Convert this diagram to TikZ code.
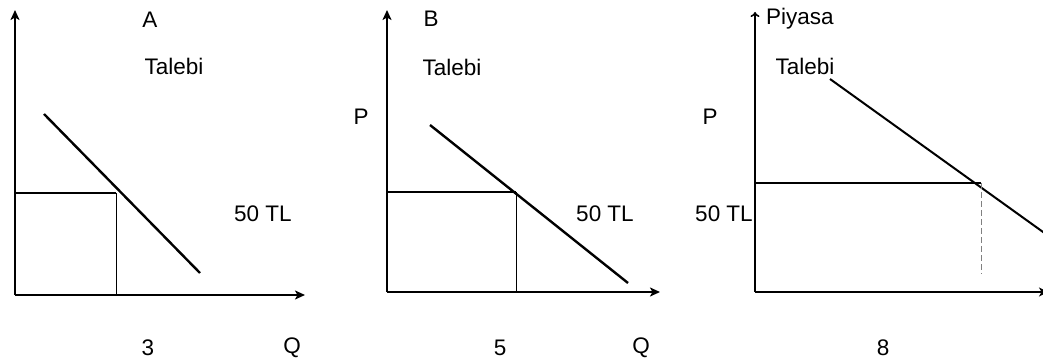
\documentclass[tikz,border=0pt]{standalone}
\usepackage{fontspec}
\setmainfont{Liberation Sans}
\usetikzlibrary{arrows.meta}
\begin{document}
\begin{tikzpicture}[x=1pt,y=-1pt,
  lbl/.style={inner sep=0pt,font=\fontsize{22.5}{22.5}\selectfont},
  axis/.style={line width=2pt,-{Stealth[length=10pt,width=9pt,inset=2.5pt]}},
  axisc/.style={line width=1.6pt,-{Stealth[length=9pt,width=9pt,inset=2.5pt]}},
  demand/.style={line width=2.4pt},
  price/.style={line width=1.6pt},
  thin/.style={line width=0.9pt},
  dot/.style={line width=0.8pt,dash pattern=on 6pt off 3pt,gray}]
\useasboundingbox (0,0) rectangle (1043,363);
% Panel A
\coordinate (oA) at (15,295);
\coordinate (yA) at (15,10);
\coordinate (xA) at (305,295);
\coordinate (dA1) at (44,114);
\coordinate (dA2) at (200,273);
\coordinate (pA0) at (15,193);
\coordinate (pA1) at (116,193);
\coordinate (qA) at (116,295);
\draw[axis] (oA) -- (yA);
\draw[axis] (oA) -- (xA);
\draw[demand] (dA1) -- (dA2);
\draw[price] (pA0) -- (pA1);
\draw[thin] (pA1) -- (qA);
\node[lbl] (A) at (150,20) {A};
\node[lbl] (talA) at (174,66) {Talebi};
\node[lbl] (tlA) at (263,214) {50 TL};
\node[lbl] (n3) at (148,348) {3};
\node[lbl] (QA) at (292,348) {Q};
% Panel B
\coordinate (oB) at (387,292);
\coordinate (yB) at (387,10);
\coordinate (xB) at (660,292);
\coordinate (dB1) at (430,125);
\coordinate (dB2) at (628,283);
\coordinate (pB0) at (387,192);
\coordinate (pB1) at (516,192);
\coordinate (qB) at (516,292);
\draw[axis] (oB) -- (yB);
\draw[axis] (oB) -- (xB);
\draw[demand] (dB1) -- (dB2);
\draw[price] (pB0) -- (pB1);
\draw[thin] (pB1) -- (qB);
\node[lbl] (B) at (431,19) {B};
\node[lbl] (talB) at (452,67) {Talebi};
\node[lbl] (PB) at (361,117) {P};
\node[lbl] (tlB) at (605,214) {50 TL};
\node[lbl] (n5) at (500,348) {5};
\node[lbl] (QB) at (641,348) {Q};
% Panel C
\coordinate (oC) at (755,292);
\coordinate (yC) at (755,12);
\coordinate (xC) at (1048,292);
\coordinate (dC1) at (830,79);
\coordinate (dC2) at (1050,237);
\coordinate (pC0) at (755,183);
\coordinate (pC1) at (981,183);
\coordinate (qC) at (981,274);
\draw[line width=1.6pt,-{To[length=5pt,width=9pt]}] (oC) -- (yC);
\draw[axisc] (oC) -- (xC);
\draw[demand,line width=2pt] (dC1) -- (dC2);
\draw[price] (pC0) -- (pC1);
\draw[dot] (pC1) -- (qC);
\node[lbl,anchor=west] (piy) at (766,19) {Piyasa};
\node[lbl] (talC) at (805,66) {Talebi};
\node[lbl] (PC) at (710,117) {P};
\node[lbl] (tlC) at (724,214) {50 TL};
\node[lbl] (n8) at (883,348) {8};
\end{tikzpicture}
\end{document}
